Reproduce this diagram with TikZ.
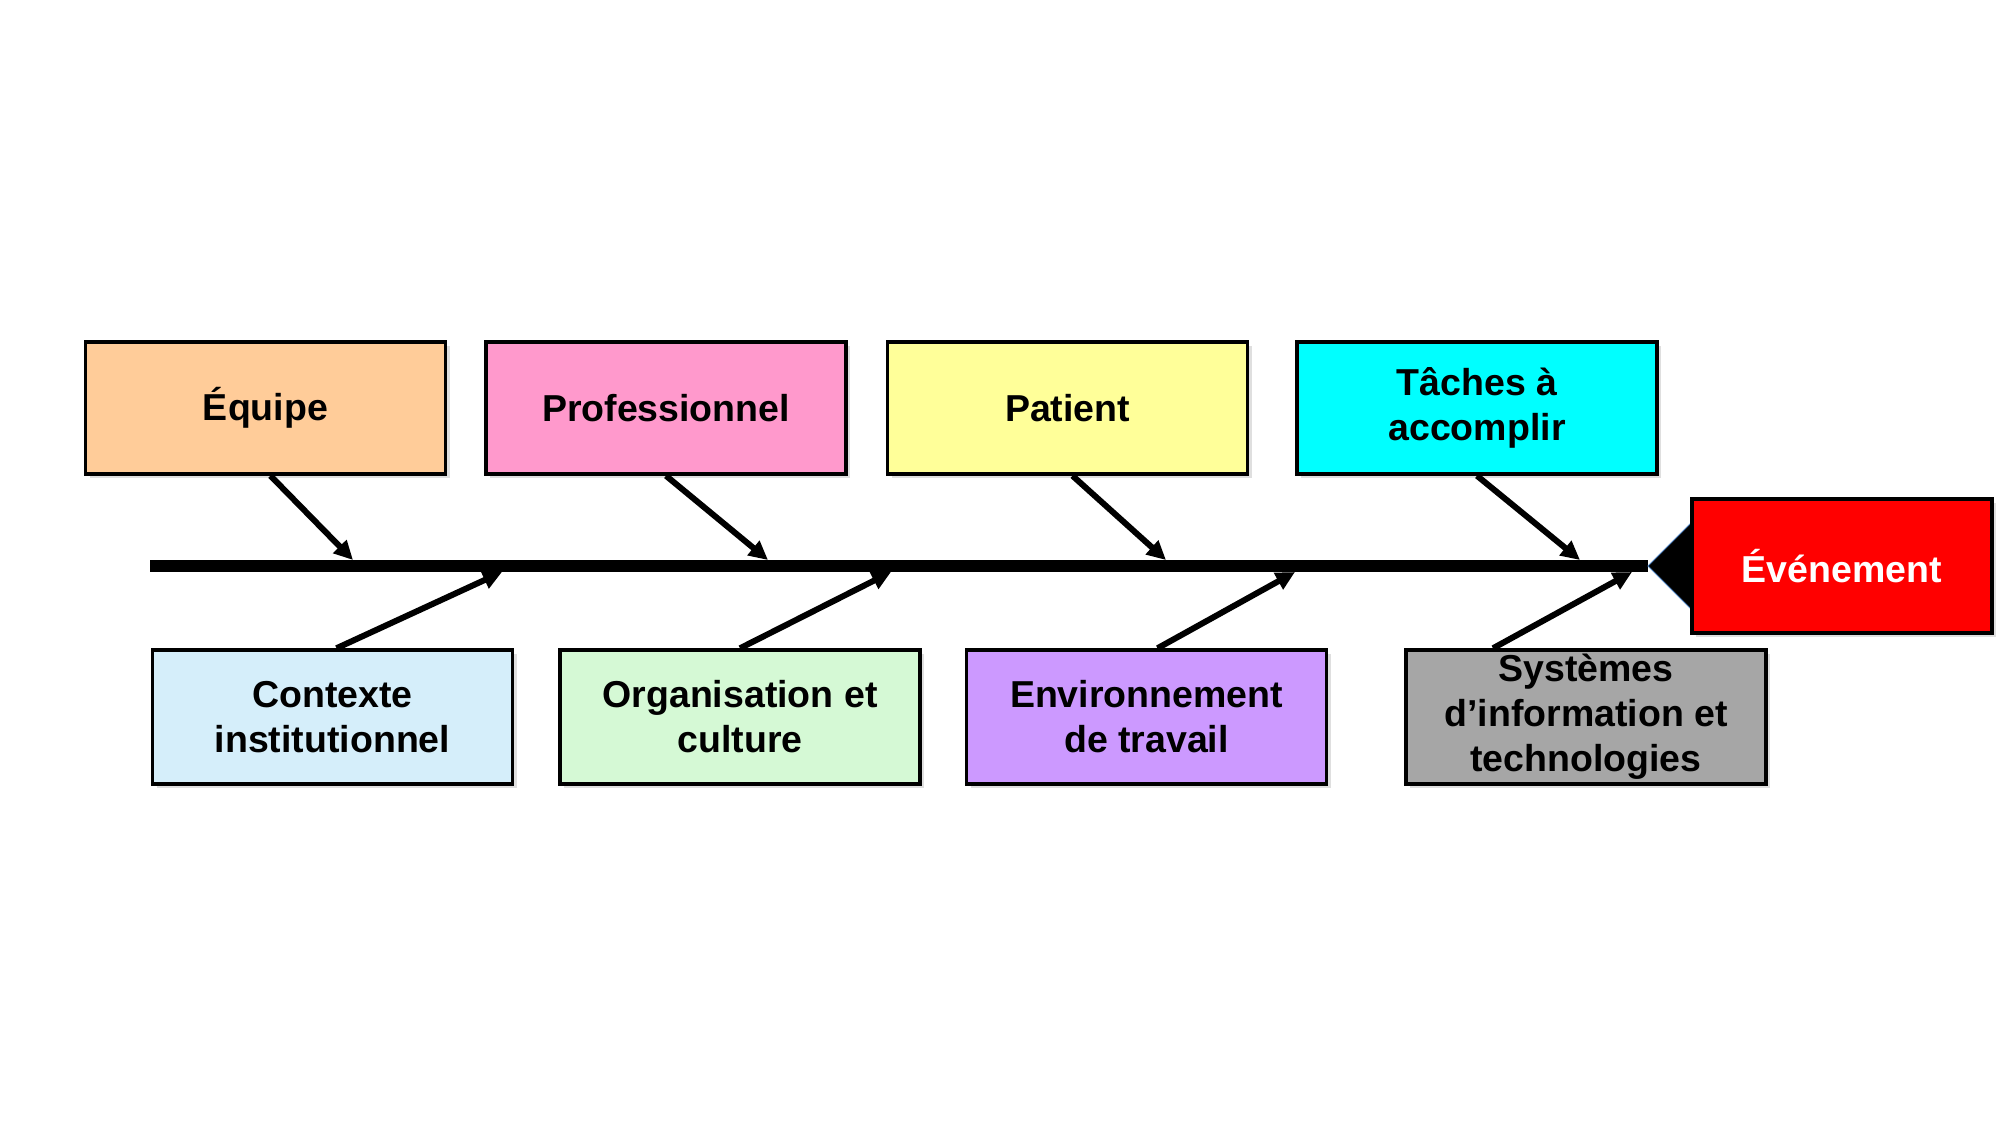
\documentclass[tikz,border=0pt]{standalone}
\usepackage{fontspec}
\setmainfont{Liberation Sans}
\usetikzlibrary{arrows.meta,shadows}

\definecolor{peach}{HTML}{FFCC99}
\definecolor{rose}{HTML}{FF99CC}
\definecolor{paleyellow}{HTML}{FFFF99}
\definecolor{aqua}{HTML}{00FFFF}
\definecolor{skyblue}{HTML}{D5EEFA}
\definecolor{mint}{HTML}{D5F9D5}
\definecolor{lavender}{HTML}{CC99FF}
\definecolor{slategray}{HTML}{A6A6A6}
\definecolor{eventred}{HTML}{FF0000}
\definecolor{edgeblue}{HTML}{4F81BD}

\begin{document}
\begin{tikzpicture}[
    x=1pt, y=-1pt,
    cause/.style={draw=black, line width=3.5pt, align=center,
        font=\fontsize{37.5}{45}\selectfont\bfseries,
        minimum width=360pt, minimum height=132pt, inner sep=0pt,
        drop shadow={shadow xshift=4pt, shadow yshift=-4pt, opacity=0.25}},
    effect/.style={cause, text=white, minimum width=300pt, minimum height=134pt},
    spine/.style={line width=12pt},
    bone/.style={line width=6pt, -{Triangle[length=19pt,width=18pt]}},
    ]
    \useasboundingbox (0,0) rectangle (2013,1133);

    % main spine
    \coordinate (spine-start) at (150,566);
    \coordinate (spine-end) at (1648,566);
    \draw[spine] (spine-start) -- (spine-end);
    \fill[black, draw=edgeblue, line width=1pt] (spine-end) -- (1705,509) -- (1705,623) -- cycle;
    \node[effect, fill=eventred] (event) at (1842,566) {Événement};

    % upper causes
    \node[cause, fill=peach] (equipe) at (265.5,408) {Équipe};
    \node[cause, fill=rose] (pro) at (666,408) {Professionnel};
    \node[cause, fill=paleyellow] (patient) at (1067.5,408) {Patient};
    \node[cause, fill=aqua] (taches) at (1477,408) {Tâches à\\accomplir};

    % lower causes
    \node[cause, fill=skyblue, minimum height=134pt] (contexte) at (332.5,717) {Contexte\\institutionnel};
    \node[cause, fill=mint, minimum height=134pt] (orga) at (740,717) {Organisation et\\culture};
    \node[cause, fill=lavender, minimum height=134pt] (envir) at (1146.5,717) {Environnement\\de travail};
    \node[cause, fill=slategray, minimum height=134pt] (systemes) at (1586,717) {Systèmes\\d’information et\\technologies};

    % bones
    \coordinate (b1) at (353,560);
    \coordinate (b2) at (768,560);
    \coordinate (b3) at (1166,560);
    \coordinate (b4) at (1580,560);
    \coordinate (b5) at (502,572);
    \coordinate (b6) at (891,572);
    \coordinate (b7) at (1295,572);
    \coordinate (b8) at (1632,572);
    \draw[bone] ([xshift=5pt]equipe.south) -- (b1);
    \draw[bone] (pro.south) -- (b2);
    \draw[bone] ([xshift=5pt]patient.south) -- (b3);
    \draw[bone] (taches.south) -- (b4);
    \draw[bone] ([xshift=4pt]contexte.north) -- (b5);
    \draw[bone] (orga.north) -- (b6);
    \draw[bone] ([xshift=11pt]envir.north) -- (b7);
    \draw[bone] ([xshift=-93pt]systemes.north) -- (b8);
\end{tikzpicture}
\end{document}
